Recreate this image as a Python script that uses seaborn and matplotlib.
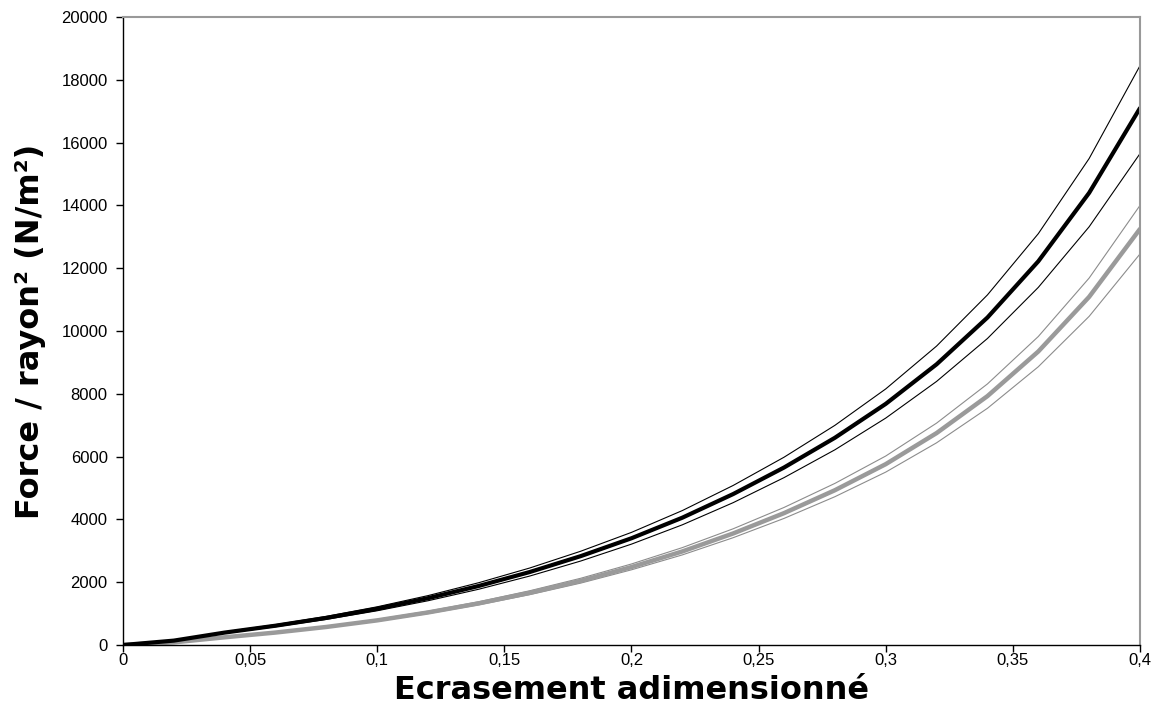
import matplotlib
matplotlib.use("Agg")
import matplotlib.pyplot as plt
import seaborn as sns
from matplotlib.ticker import FuncFormatter, MultipleLocator

# ecrasement adimensionne
ecrasement = [0, 0.02, 0.04, 0.06, 0.08, 0.1, 0.12, 0.14, 0.16, 0.18, 0.2,
              0.22, 0.24, 0.26, 0.28, 0.3, 0.32, 0.34, 0.36, 0.38, 0.4]

# force / rayon^2, serie noire (moyenne + bornes)
noir_moy = [0, 140, 396, 615, 864, 1154, 1492, 1882, 2325, 2830, 3400,
            4055, 4808, 5653, 6600, 7680, 8940, 10430, 12220, 14400, 17100]
noir_haut = [0, 148, 418, 649, 912, 1217, 1574, 1986, 2453, 2986, 3587,
             4282, 5082, 5981, 6996, 8156, 9521, 11150, 13100, 15494, 18450]
noir_bas = [0, 132, 374, 581, 816, 1091, 1410, 1778, 2197, 2674, 3213,
            3828, 4534, 5331, 6217, 7227, 8395, 9762, 11389, 13320, 15650]

# serie grise (moyenne + bornes)
gris_moy = [0, 84, 246, 397, 575, 785, 1037, 1327, 1662, 2043, 2482,
            2980, 3553, 4200, 4930, 5760, 6750, 7927, 9348, 11088, 13250]
gris_haut = [0, 87, 256, 413, 598, 816, 1078, 1380, 1728, 2125, 2581,
             3102, 3702, 4381, 5147, 6019, 7067, 8315, 9825, 11687, 14000]
gris_bas = [0, 81, 237, 383, 555, 758, 1001, 1281, 1604, 1971, 2395,
            2870, 3418, 4032, 4723, 5507, 6440, 7539, 8862, 10467, 12455]

sns.set_style("ticks")
plt.rcParams['font.family'] = ['Liberation Sans', 'DejaVu Sans']
plt.rcParams['text.color'] = 'black'
plt.rcParams['axes.labelcolor'] = 'black'

fig = plt.figure(figsize=(11.57, 7.28), dpi=100)
ax = fig.add_axes([0.1063, 0.114, 0.8790, 0.8626])

# bornes fines d'abord, courbes epaisses par-dessus
for serie, col in [(gris_haut, '#8c8c8c'), (gris_bas, '#8c8c8c'),
                   (noir_haut, 'black'), (noir_bas, 'black')]:
    sns.lineplot(x=ecrasement, y=serie, ax=ax, color=col, lw=0.8)
sns.lineplot(x=ecrasement, y=gris_moy, ax=ax, color='#9a9a9a', lw=3.2)
sns.lineplot(x=ecrasement, y=noir_moy, ax=ax, color='black', lw=3.0)

ax.set_xlim(0, 0.4)
ax.set_ylim(0, 20000)
ax.xaxis.set_major_locator(MultipleLocator(0.05))
ax.yaxis.set_major_locator(MultipleLocator(2000))
ax.xaxis.set_major_formatter(FuncFormatter(lambda v, p: ('%g' % round(v, 2)).replace('.', ',')))
ax.yaxis.set_major_formatter(FuncFormatter(lambda v, p: '%d' % v))
ax.tick_params(direction='out', length=5, width=1, labelsize=12, colors='black')
ax.tick_params(axis='x', pad=1)
ax.tick_params(axis='y', pad=6)

for side in ['left', 'bottom']:
    ax.spines[side].set_color('black')
    ax.spines[side].set_linewidth(1)
for side in ['top', 'right']:
    ax.spines[side].set_visible(True)
    ax.spines[side].set_color('#999999')
    ax.spines[side].set_linewidth(1.5)

# titres d'axes larges, comme dans l'original
ax.set_xlabel('Ecrasement adimensionné', fontsize=23, fontweight='bold',
              family='DejaVu Sans', labelpad=5)
ax.set_ylabel('Force / rayon² (N/m²)', fontsize=23, fontweight='bold',
              family='DejaVu Sans', labelpad=11)

fig.savefig('out.png', dpi=100)
